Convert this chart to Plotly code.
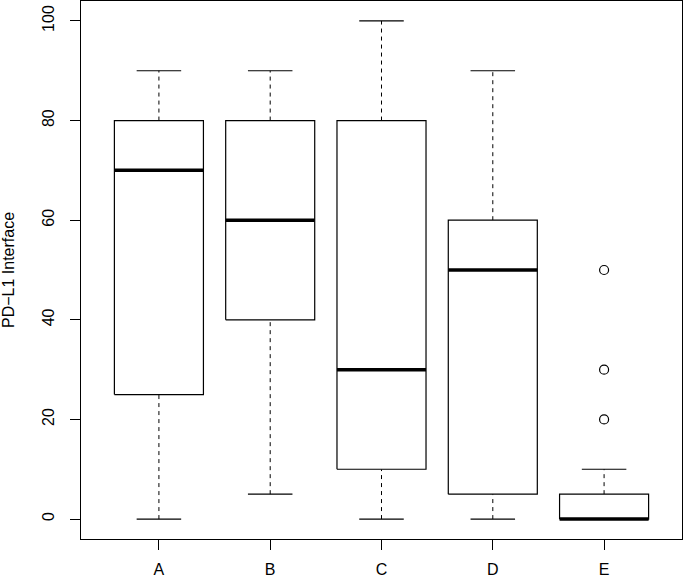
import plotly.graph_objects as go

categories = ["A", "B", "C", "D", "E"]
lower_whisker = [0, 5, 0, 0, 0]
q1 = [25, 40, 10, 5, 0]
median = [70, 60, 30, 50, 0]
q3 = [80, 80, 80, 60, 5]
upper_whisker = [90, 90, 100, 90, 10]
outlier_cat = ["E", "E", "E"]
outlier_vals = [20, 30, 50]

BOX_HALF = 0.4
CAP_HALF = 0.2
FONT = "Liberation Sans, Arial, sans-serif"

fig = go.Figure()
for i, c in enumerate(categories):
    x = i + 1
    # whiskers (dashed)
    fig.add_trace(go.Scatter(x=[x, x, None, x, x],
                             y=[q3[i], upper_whisker[i], None, lower_whisker[i], q1[i]],
                             mode="lines", line=dict(color="black", width=1, dash="4px,4px"),
                             hoverinfo="skip", showlegend=False))
    # caps
    fig.add_trace(go.Scatter(x=[x - CAP_HALF, x + CAP_HALF, None, x - CAP_HALF, x + CAP_HALF],
                             y=[upper_whisker[i], upper_whisker[i], None, lower_whisker[i], lower_whisker[i]],
                             mode="lines", line=dict(color="black", width=1.2),
                             hoverinfo="skip", showlegend=False))
    # box
    fig.add_trace(go.Scatter(x=[x - BOX_HALF, x + BOX_HALF, x + BOX_HALF, x - BOX_HALF, x - BOX_HALF],
                             y=[q1[i], q1[i], q3[i], q3[i], q1[i]],
                             mode="lines", line=dict(color="black", width=1.2),
                             fill="toself", fillcolor="white",
                             hoverinfo="skip", showlegend=False))
    # median
    fig.add_trace(go.Scatter(x=[x - BOX_HALF, x + BOX_HALF], y=[median[i], median[i]],
                             mode="lines", line=dict(color="black", width=3.5),
                             hoverinfo="skip", showlegend=False))

fig.add_trace(go.Scatter(x=[categories.index(c) + 1 for c in outlier_cat], y=outlier_vals,
                         mode="markers",
                         marker=dict(symbol="circle-open", size=9, color="black", line=dict(width=1.2)),
                         hoverinfo="skip", showlegend=False))

fig.update_layout(
    width=685, height=579,
    margin=dict(l=81, r=3, t=1, b=40, autoexpand=False),
    paper_bgcolor="white", plot_bgcolor="white",
    font=dict(family=FONT, size=16, color="black"),
    showlegend=False,
)
fig.update_xaxes(range=[0.3, 5.7], tickvals=list(range(1, 6)), ticktext=categories,
                 showgrid=False, zeroline=False, showline=True, mirror=True,
                 linecolor="black", linewidth=1.2, ticks="outside", ticklen=10,
                 tickcolor="black", tickwidth=1.2, ticklabelstandoff=6, automargin=False)
fig.update_yaxes(range=[-4, 104], tickvals=[0, 20, 40, 60, 80, 100],
                 showgrid=False, zeroline=False, showline=True, mirror=True,
                 linecolor="black", linewidth=1.2, ticks="outside", ticklen=10,
                 tickcolor="black", tickwidth=1.2, tickangle=-90, ticklabelstandoff=10,
                 automargin=False,
                 title=dict(text="PD\u2212L1 Interface", font=dict(size=16), standoff=22))

fig.write_html("out.html", config={"displayModeBar": False},
               post_script="document.body.style.margin='0';document.body.style.padding='0';")
